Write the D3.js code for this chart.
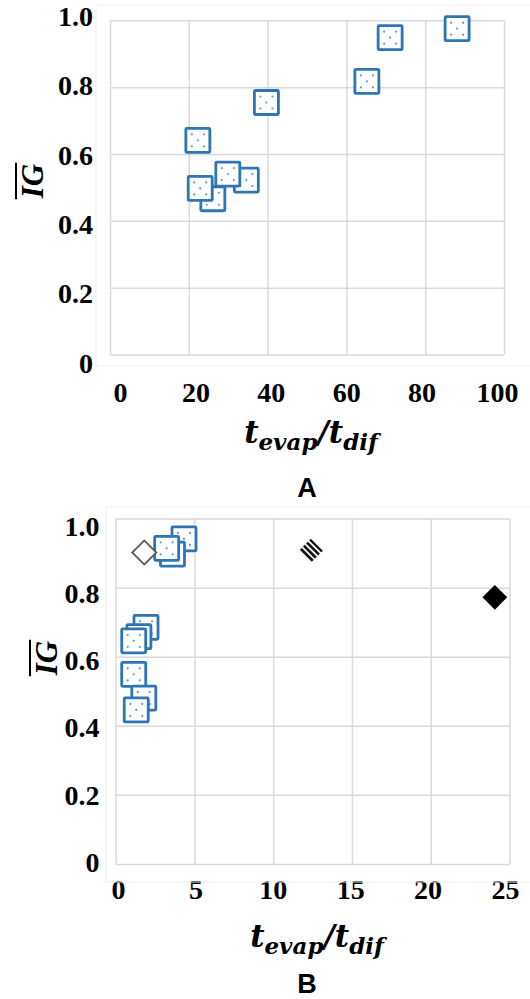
<!DOCTYPE html>
<html lang="en">
<head>
<meta charset="UTF-8">
<title>IG vs tevap/tdif</title>
<style>
  body { margin: 0; background: #fff; }
  svg { display: block; }
</style>
</head>
<body>
<script src="https://d3js.org/d3.v7.min.js"></script>
<script>
// panel A : one series of squares
var aX = [88.1, 71.1, 65.2, 39.7, 22.3, 26.1, 22.9, 34.6, 29.9];
var aY = [0.975, 0.948, 0.817, 0.754, 0.641, 0.466, 0.497, 0.522, 0.540];
var aXTicks = [0, 20, 40, 60, 80, 100];

// panel B : squares + three diamonds
var bSquareX = [4.34, 3.61, 3.24, 1.93, 1.48, 1.15, 1.15, 1.79, 1.31];
var bSquareY = [0.941, 0.897, 0.914, 0.685, 0.658, 0.646, 0.549, 0.480, 0.446];
var bOpenX = [1.82], bOpenY = [0.902];
var bStripeX = [12.39], bStripeY = [0.907];
var bSolidX = [24.07], bSolidY = [0.772];
var bXTicks = [0, 5, 10, 15, 20, 25];

var yTicks = [0, 0.2, 0.4, 0.6, 0.8, 1.0];
var yTickLabels = ["0", "0.2", "0.4", "0.6", "0.8", "1.0"];

var width = 530, height = 999;
var svg = d3.select('body').append('svg').attr('width', width).attr('height', height);

// stripe fill for the hatched diamond (in the marker's own rotated space)
var defs = svg.append('defs');
defs.append('pattern').attr('id', 'stripes')
    .attr('patternUnits', 'userSpaceOnUse')
    .attr('width', 4.4).attr('height', 4.4)
  .append('rect').attr('width', 4.4).attr('height', 2.7).attr('fill', '#111');

var zip = function (xs, ys) { return xs.map(function (d, i) { return { x: d, y: ys[i] }; }); };

function panel(p) {
    var w = p.right - p.left, h = p.bottom - p.top;
    var g = svg.append('g').attr('transform', 'translate(' + p.left + ',' + p.top + ')');

    // faint chart-area border
    svg.append('path')
        .attr('d', 'M' + p.box[2] + ',' + p.box[1] + 'H' + p.box[0] + 'V' + p.box[3] + 'H' + p.box[2])
        .attr('fill', 'none').attr('stroke', '#efefef').attr('stroke-width', 1.2);

    var x = d3.scaleLinear().domain(p.xDomain).range([0, w]);
    var y = d3.scaleLinear().domain([0, 1]).range([h, 0]);
    // tick labels in the original sit on a slightly different spacing than the grid
    var xl = d3.scaleLinear().domain(p.xDomain).range(p.xLabelRange);
    var yl = d3.scaleLinear().domain([0, 1]).range(p.yLabelRange);

    var xAxis = g.append('g').attr('transform', 'translate(0,' + h + ')')
        .call(d3.axisBottom(x).tickValues(p.xTicks).tickSize(-h).tickPadding(p.xPad).tickFormat(d3.format('d')));
    var yAxis = g.append('g')
        .call(d3.axisLeft(y).tickValues(yTicks).tickSize(-w).tickPadding(p.yPad)
            .tickFormat(function (d, i) { return yTickLabels[i]; }));

    [xAxis, yAxis].forEach(function (ax) {
        ax.select('.domain').remove();
        ax.selectAll('line').attr('stroke', '#d9d9d9').attr('stroke-width', 1.5);
        ax.selectAll('text').attr('fill', '#000')
            .style('font-family', '"Liberation Serif", "Times New Roman", serif')
            .style('font-weight', 'bold').style('font-size', '28px');
    });
    xAxis.selectAll('text').attr('x', function (d) { return xl(d) - p.left - x(d); });
    yAxis.selectAll('text').attr('y', function (d) { return yl(d) - p.top - y(d); }).attr('dy', '0.33em');

    // x title  t_evap / t_dif
    var xt = svg.append('text')
        .attr('x', p.titleX).attr('y', p.titleY)
        .attr('text-anchor', 'middle')
        .style('font-family', '"DejaVu Serif", serif')
        .style('font-style', 'italic').style('font-weight', 'bold')
        .style('font-size', '31px');
    xt.append('tspan').text('t');
    xt.append('tspan').attr('dy', 7).style('font-size', '23px').text('evap');
    xt.append('tspan').attr('dy', -7).text('/t');
    xt.append('tspan').attr('dy', 7).style('font-size', '23px').text('dif');

    // y title with overline
    var yt = svg.append('g').attr('transform', 'translate(' + p.yTitleX + ',' + p.yTitleY + ') rotate(-90)');
    var ytext = yt.append('text').attr('text-anchor', 'middle')
        .style('font-family', '"Liberation Serif", "Times New Roman", serif')
        .style('font-style', 'italic').style('font-weight', 'bold')
        .style('font-size', '31px').text('IG');
    var tw = ytext.node().getComputedTextLength();
    yt.append('line').attr('x1', -tw / 2 - 1).attr('x2', tw / 2 + 1)
        .attr('y1', -27).attr('y2', -27).attr('stroke', '#000').attr('stroke-width', 2);

    // panel letter
    svg.append('text').attr('x', p.letterX).attr('y', p.letterY).attr('text-anchor', 'middle')
        .style('font-family', '"Liberation Sans", Arial, sans-serif')
        .style('font-weight', 'bold').style('font-size', '27px').text(p.letter);

    return { g: g, x: x, y: y };
}

function squares(pl, pts) {
    var m = pl.g.selectAll('g.sq').data(pts).enter().append('g').attr('class', 'sq')
        .attr('transform', function (d) { return 'translate(' + pl.x(d.x) + ',' + pl.y(d.y) + ')'; });
    m.append('rect').attr('x', -12).attr('y', -12).attr('width', 24).attr('height', 24).attr('rx', 1)
        .attr('fill', '#fff').attr('stroke', '#2e75b6').attr('stroke-width', 2.8);
    m.selectAll('circle').data([[-6, -6], [6, -6], [0, 0], [-6, 6], [6, 6]]).enter().append('circle')
        .attr('cx', function (d) { return d[0]; }).attr('cy', function (d) { return d[1]; })
        .attr('r', 1.1).attr('fill', '#5b9bd5');
}

function diamonds(pl, pts, side, fill, stroke) {
    var sym = d3.symbol().type(d3.symbolSquare).size(side * side);
    pl.g.selectAll(null).data(pts).enter().append('path')
        .attr('d', sym)
        .attr('transform', function (d) { return 'translate(' + pl.x(d.x) + ',' + pl.y(d.y) + ') rotate(45)'; })
        .attr('fill', fill).attr('stroke', stroke || 'none').attr('stroke-width', 1.8);
}

var A = panel({
    left: 110, right: 504, top: 20.3, bottom: 354.5, xDomain: [0, 100], xTicks: aXTicks,
    xLabelRange: [120, 497], yLabelRange: [363, 16],
    xPad: 27.5, yPad: 17, titleX: 311, titleY: 443, yTitleX: 43, yTitleY: 181,
    letter: 'A', letterX: 307, letterY: 497, box: [96, 5, 540, 366]
});
squares(A, zip(aX, aY));

var B = panel({
    left: 115.6, right: 509.5, top: 518.6, bottom: 863.9, xDomain: [0, 25], xTicks: bXTicks,
    xLabelRange: [118, 505], yLabelRange: [862, 526],
    xPad: 15.5, yPad: 16, titleX: 317, titleY: 947, yTitleX: 57, yTitleY: 658,
    letter: 'B', letterX: 307, letterY: 993, box: [106, 507, 540, 882]
});
squares(B, zip(bSquareX, bSquareY));
diamonds(B, zip(bOpenX, bOpenY), 17, '#fff', '#595959');
diamonds(B, zip(bStripeX, bStripeY), 17, 'url(#stripes)');
diamonds(B, zip(bSolidX, bSolidY), 17.5, '#000');
</script>
</body>
</html>
